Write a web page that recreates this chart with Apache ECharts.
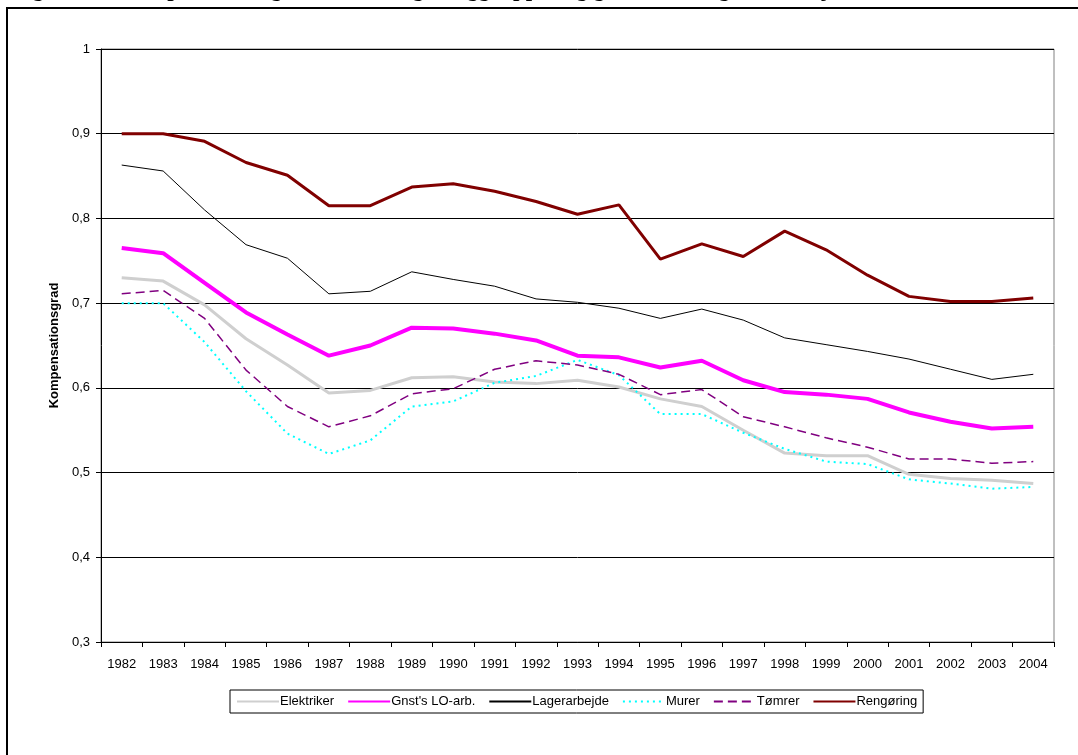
<!DOCTYPE html>
<html>
<head>
<meta charset="utf-8">
<script src="https://cdn.jsdelivr.net/npm/echarts@6/dist/echarts.min.js"></script>
<style>
  html, body { margin: 0; padding: 0; background: #fff; }
  #chart { width: 1078px; height: 755px; }
</style>
</head>
<body>
<div id="chart"></div>
<script>
var years = ['1982', '1983', '1984', '1985', '1986', '1987', '1988', '1989', '1990', '1991', '1992', '1993',
    '1994', '1995', '1996', '1997', '1998', '1999', '2000', '2001', '2002', '2003', '2004'];

var elektriker = [0.730, 0.726, 0.698, 0.658, 0.627, 0.594, 0.597, 0.612, 0.613, 0.607, 0.605, 0.609,
    0.601, 0.587, 0.578, 0.550, 0.523, 0.520, 0.520, 0.498, 0.493, 0.491, 0.487];
var gnstLO = [0.765, 0.759, 0.724, 0.689, 0.663, 0.638, 0.650, 0.671, 0.670, 0.664, 0.656, 0.638,
    0.636, 0.624, 0.632, 0.609, 0.595, 0.592, 0.587, 0.571, 0.560, 0.552, 0.554];
var lagerarbejde = [0.863, 0.856, 0.810, 0.769, 0.753, 0.711, 0.714, 0.737, 0.728, 0.720, 0.705, 0.701,
    0.694, 0.682, 0.693, 0.680, 0.659, 0.651, 0.643, 0.634, 0.622, 0.610, 0.616];
var murer = [0.700, 0.700, 0.654, 0.596, 0.546, 0.522, 0.538, 0.578, 0.584, 0.606, 0.614, 0.633,
    0.615, 0.569, 0.569, 0.547, 0.528, 0.513, 0.510, 0.492, 0.487, 0.481, 0.483];
var tomrer = [0.711, 0.715, 0.682, 0.621, 0.578, 0.554, 0.567, 0.593, 0.599, 0.622, 0.632, 0.627,
    0.616, 0.592, 0.598, 0.566, 0.554, 0.541, 0.530, 0.516, 0.516, 0.511, 0.513];
var rengoring = [0.900, 0.900, 0.891, 0.866, 0.851, 0.815, 0.815, 0.837, 0.841, 0.832, 0.820, 0.805,
    0.816, 0.752, 0.770, 0.755, 0.785, 0.763, 0.733, 0.708, 0.702, 0.702, 0.706];

var font = 'Arial, "Liberation Sans", sans-serif';

function makeLine(name, data, color, width, type) {
    return {
        name: name,
        type: 'line',
        data: data,
        symbol: 'none',
        smooth: false,
        lineStyle: { color: color, width: width, type: type },
        itemStyle: { color: color },
        emphasis: { disabled: true }
    };
}

var chart = echarts.init(document.getElementById('chart'));
var option = {
    animation: false,
    backgroundColor: '#fff',
    textStyle: { fontFamily: font },
    graphic: [
        {
            type: 'rect',
            shape: { x: 7, y: 8, width: 1100, height: 800 },
            style: { fill: 'none', stroke: '#000', lineWidth: 2 },
            silent: true
        },
        {
            type: 'text',
            left: 12,
            top: -21,
            style: {
                text: 'Figur 10.2 Kompensationsgrad for udvalgte faggrupper og gennemsnitlig LO-arbejder',
                font: 'bold 23px "Liberation Serif", "Times New Roman", serif',
                fill: '#000'
            },
            silent: true
        }
    ],
    grid: {
        left: 101,
        right: 24,
        top: 49,
        bottom: 113,
        show: true,
        borderColor: '#808080',
        borderWidth: 1,
        backgroundColor: '#fff'
    },
    legend: {
        top: 690,
        left: 230,
        itemWidth: 42,
        itemHeight: 10,
        itemGap: 13,
        padding: [5, 6, 5, 6],
        borderColor: '#000',
        borderWidth: 1,
        borderRadius: 0,
        itemStyle: { opacity: 0 },
        textStyle: { fontSize: 13, color: '#000', fontFamily: font, padding: [0, 0, 0, -4] },
        data: ['Elektriker', "Gnst's LO-arb.", 'Lagerarbejde', 'Murer', 'Tømrer', 'Rengøring']
    },
    xAxis: {
        type: 'category',
        data: years,
        boundaryGap: true,
        axisLine: { lineStyle: { color: '#000', width: 1 } },
        axisTick: { show: true, length: 5, inside: false, lineStyle: { color: '#000' } },
        axisLabel: { color: '#000', fontSize: 13, margin: 16, interval: 0, fontFamily: font },
        splitLine: { show: false }
    },
    yAxis: {
        type: 'value',
        min: 0.3,
        max: 1,
        interval: 0.1,
        name: 'Kompensationsgrad',
        nameLocation: 'middle',
        nameGap: 38,
        nameTextStyle: { fontWeight: 'bold', fontSize: 13, color: '#000', fontFamily: font },
        axisLine: { show: true, lineStyle: { color: '#000', width: 1 } },
        axisTick: { show: true, length: 5, lineStyle: { color: '#000' } },
        axisLabel: {
            color: '#000',
            fontSize: 13,
            margin: 11,
            fontFamily: font,
            formatter: function (v) {
                return String(Math.round(v * 10) / 10).replace('.', ',');
            }
        },
        splitLine: { show: true, lineStyle: { color: '#000', width: 1 } }
    },
    series: [
        makeLine('Elektriker', elektriker, '#cfcfcf', 3, 'solid'),
        makeLine("Gnst's LO-arb.", gnstLO, '#ff00ff', 4, 'solid'),
        makeLine('Lagerarbejde', lagerarbejde, '#000000', 1, 'solid'),
        makeLine('Murer', murer, '#00ffff', 2, [2, 4]),
        makeLine('Tømrer', tomrer, '#800080', 1.5, [9, 5]),
        makeLine('Rengøring', rengoring, '#800000', 3, 'solid')
    ]
};
chart.setOption(option);
</script>
</body>
</html>
